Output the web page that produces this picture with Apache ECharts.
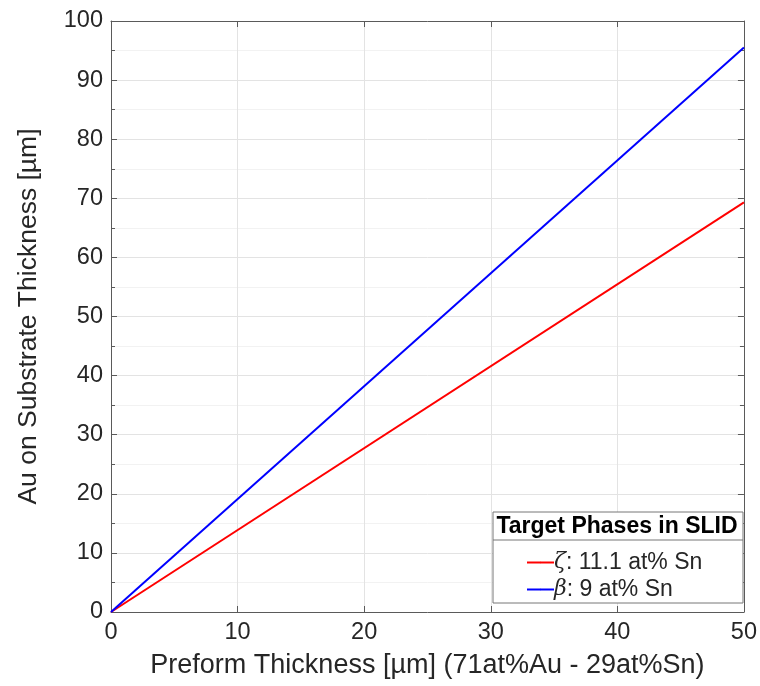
<!DOCTYPE html>
<html>
<head>
<meta charset="utf-8">
<script src="https://cdn.jsdelivr.net/npm/echarts@6/dist/echarts.min.js"></script>
<style>
  html, body { margin: 0; padding: 0; background: #fff; }
  #chart { width: 760px; height: 686px; }
</style>
</head>
<body>
<div id="chart"></div>
<script>
var preform = [0, 50];
var zetaAu = [0, 69.3];
var betaAu = [0, 95.5];
var seriesNames = ['zeta', 'beta'];
var legendText = {'zeta': '{g|ζ}: 11.1 at% Sn', 'beta': '{g|β}: 9 at% Sn'};

function pairs(xs, ys){
    var out = [];
    for (var i = 0; i < xs.length; i++){
        out.push([xs[i], ys[i]]);
    }
    return out;
}

var chart = echarts.init(document.getElementById('chart'));
var font = 'Liberation Sans, Arial, sans-serif';
var axisColor = '#5a5a5a';
var boxLine = {show: true, onZero: false, lineStyle: {color: axisColor, width: 1}};
// ticks pointing into the plot box
var tickIn = {show: true, inside: true, length: 6, lineStyle: {color: axisColor}};
var minorIn = {show: true, splitNumber: 2, length: 4, lineStyle: {color: axisColor}};

var option = {
    animation: false,
    grid: {left: 111, top: 21, right: 16, bottom: 74},
    xAxis: [{
        type: 'value', min: 0, max: 50, interval: 10,
        position: 'bottom',
        name: 'Preform Thickness [µm] (71at%Au - 29at%Sn)',
        nameLocation: 'middle', nameGap: 40,
        nameTextStyle: {fontFamily: font, fontSize: 27, color: '#262626'},
        axisLine: boxLine,
        axisTick: tickIn,
        axisLabel: {fontFamily: font, fontSize: 23.5, color: '#262626', margin: 9},
        splitLine: {show: true, lineStyle: {color: '#e3e3e3', width: 1}}
    }, {
        type: 'value', min: 0, max: 50, interval: 10,
        position: 'top',
        axisLine: boxLine,
        axisTick: tickIn,
        axisLabel: {show: false},
        splitLine: {show: false}
    }],
    yAxis: [{
        type: 'value', min: 0, max: 100, interval: 10,
        position: 'left',
        name: 'Au on Substrate Thickness [µm]',
        nameLocation: 'middle', nameGap: 69,
        nameTextStyle: {fontFamily: font, fontSize: 26.5, color: '#262626'},
        axisLine: boxLine,
        axisTick: tickIn,
        minorTick: minorIn,
        axisLabel: {fontFamily: font, fontSize: 23.5, color: '#262626', margin: 8},
        splitLine: {show: true, lineStyle: {color: '#e3e3e3', width: 1}},
        minorSplitLine: {show: true, lineStyle: {color: '#f2f2f2', width: 1}}
    }, {
        type: 'value', min: 0, max: 100, interval: 10,
        position: 'right',
        axisLine: boxLine,
        axisTick: tickIn,
        minorTick: minorIn,
        axisLabel: {show: false},
        splitLine: {show: false}
    }],
    legend: {
        orient: 'vertical',
        left: 521, top: 546,
        z: 20,
        itemWidth: 27, itemHeight: 2, itemGap: 4,
        data: seriesNames,
        formatter: function(name){ return legendText[name]; },
        textStyle: {
            fontFamily: font, fontSize: 23, color: '#262626', padding: [0, 0, 0, -5],
            rich: {g: {fontFamily: 'DejaVu Serif, serif', fontStyle: 'italic', fontSize: 22, color: '#262626'}}
        }
    },
    graphic: [{
        type: 'rect',
        shape: {x: 493, y: 512, width: 250, height: 91},
        style: {fill: '#fff', stroke: '#777', lineWidth: 1},
        z: 5
    }, {
        type: 'line',
        shape: {x1: 493, y1: 540, x2: 743, y2: 540},
        style: {stroke: '#777', lineWidth: 1},
        z: 6
    }, {
        type: 'text',
        x: 617, y: 527,
        style: {text: 'Target Phases in SLID', fontFamily: font, fontSize: 23, fontWeight: 'bold',
                fill: '#000', align: 'center', verticalAlign: 'middle'},
        z: 6
    }],
    series: [{
        name: 'zeta', type: 'line', xAxisIndex: 0, yAxisIndex: 0,
        data: pairs(preform, zetaAu), symbol: 'none',
        lineStyle: {color: '#ff0000', width: 2}, itemStyle: {color: '#ff0000'}
    }, {
        name: 'beta', type: 'line', xAxisIndex: 0, yAxisIndex: 0,
        data: pairs(preform, betaAu), symbol: 'none',
        lineStyle: {color: '#0000ff', width: 2}, itemStyle: {color: '#0000ff'}
    }]
};
chart.setOption(option);
</script>
</body>
</html>
